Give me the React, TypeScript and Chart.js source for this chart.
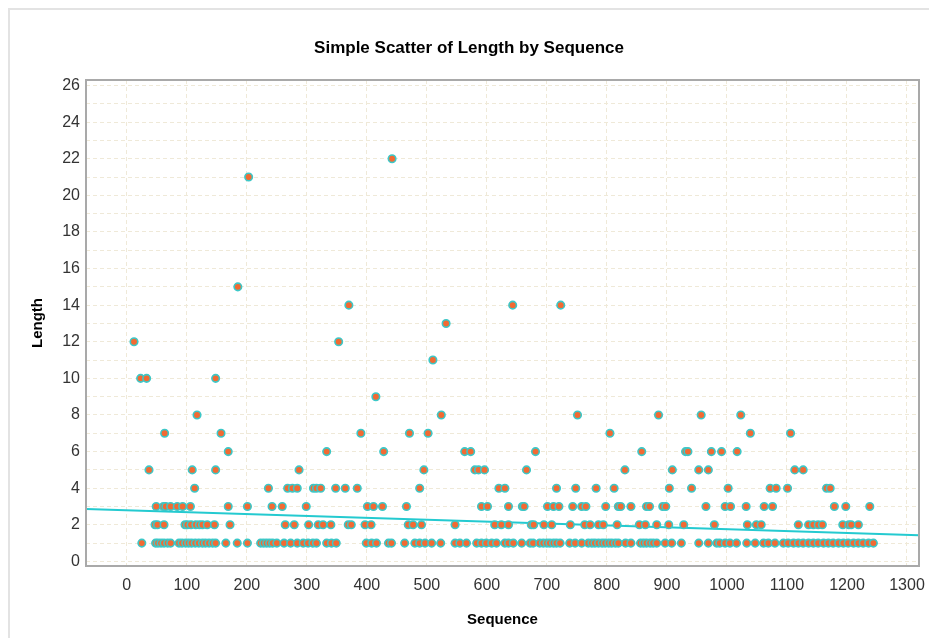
import React, { useEffect, useRef } from "react";
import { Chart, registerables } from "chart.js";

Chart.register(...registerables);

// Sequence values grouped by their Length value
const len1X = [25, 48, 52, 57, 62, 68, 73, 87, 92, 98, 103, 108, 114, 120, 126, 131, 137, 143, 148, 165, 184, 201, 223, 228, 233, 238, 243, 250, 262, 273, 284,
  294, 302, 310, 316, 333, 341, 349, 399, 408, 416, 436, 441, 463, 480, 488, 497, 508, 523, 547, 555, 566, 583, 591, 599, 608, 616, 630,
  636, 644, 658, 672, 677, 688, 694, 700, 705, 711, 716, 722, 738, 747, 758, 769, 775, 780, 786, 792, 797, 803, 808, 814, 819, 831, 840, 856, 861, 866, 872, 877, 883, 897, 908, 924, 953, 969,
  983, 988, 997, 1005, 1016, 1033, 1047, 1061, 1069, 1080, 1094, 1102, 1111, 1119, 1127, 1136, 1144, 1152, 1161, 1169, 1177, 1186, 1194, 1202, 1211, 1219, 1227, 1236, 1244];
const len2X = [47, 51, 62, 97, 101, 107, 115, 121, 126, 134, 146, 172, 264, 279,
  303, 319, 327, 340, 369, 374, 397, 407, 469, 477, 491, 547, 613, 624, 636,
  674, 678, 695, 708, 739, 763, 772, 786, 794, 817, 854, 864, 883, 903, 928, 979,
  1034, 1049, 1057, 1119, 1136, 1144, 1152, 1159, 1193, 1203, 1207, 1219];
const len3X = [49, 61, 65, 73, 84, 93, 106, 169, 201, 242, 259,
  299, 401, 411, 426, 466, 591, 601, 636,
  659, 662, 701, 711, 720, 743, 758, 765, 798, 819, 823, 840, 866, 871, 893, 898, 965,
  997, 1006, 1032, 1062, 1076, 1179, 1198, 1238];
const len4X = [113, 236, 268, 276, 284, 311, 316, 323, 348, 364, 384, 488, 620, 630,
  716, 748, 782, 812, 904, 941, 1002, 1072, 1082, 1101, 1166, 1172];
const len5X = [37, 109, 148, 287, 495, 580, 586, 596, 666, 830, 909, 953, 969, 1113, 1127];
const len6X = [169, 333, 428, 563, 573, 681, 858, 931, 935, 974, 991, 1017];
const len7X = [63, 157, 390, 471, 502, 805, 1039, 1106];
const len8X = [117, 524, 751, 886, 957, 1023];
const len9X = [415];
const len10X = [23, 33, 148];
const len11X = [510];
const len12X = [12, 353];
const len13X = [532];
const len14X = [370, 643, 723];
const len15X = [185];
const len21X = [203];
const len22X = [442];

const lengthLevels = [1, 2, 3, 4, 5, 6, 7, 8, 9, 10, 11, 12, 13, 14, 15, 21, 22];
const sequenceGroups = [len1X, len2X, len3X, len4X, len5X, len6X, len7X, len8X, len9X, len10X, len11X, len12X, len13X, len14X, len15X, len21X, len22X];

// Linear fit line
const fitIntercept = 2.8;
const fitSlope = -0.001037;

const xMin = -68;
const xMax = 1320;
const yMin = -0.25;
const yMax = 26.3;

const FONT = "'Liberation Sans', Arial, sans-serif";

export default function App() {
  const ref = useRef<HTMLCanvasElement>(null);

  useEffect(() => {
    const points: { x: number; y: number }[] = [];
    sequenceGroups.forEach((xs, i) => {
      xs.forEach((x) => points.push({ x, y: lengthLevels[i] }));
    });
    const fitLine = [
      { x: xMin, y: fitIntercept + fitSlope * xMin },
      { x: xMax, y: fitIntercept + fitSlope * xMax },
    ];

    const frame = {
      id: "frame",
      afterDraw(chart: any) {
        const { ctx, chartArea } = chart;
        ctx.save();
        ctx.strokeStyle = "#a9a9a9";
        ctx.lineWidth = 2;
        ctx.strokeRect(chartArea.left, chartArea.top, chartArea.right - chartArea.left, chartArea.bottom - chartArea.top);
        ctx.restore();
      },
    };

    const noOverflow = (s: any) => {
      s.paddingLeft = 0;
      s.paddingRight = 0;
      s.paddingTop = 0;
      s.paddingBottom = 0;
    };

    const chart = new Chart(ref.current as HTMLCanvasElement, {
      type: "scatter",
      data: {
        datasets: [
          {
            data: points,
            backgroundColor: "#f26a33",
            borderColor: "#3cc8c8",
            borderWidth: 1.6,
            pointRadius: 3.75,
            pointHoverRadius: 3.75,
          } as any,
          {
            type: "line",
            data: fitLine,
            borderColor: "#24cad0",
            borderWidth: 2,
            pointRadius: 0,
            fill: false,
          } as any,
        ],
      },
      options: {
        responsive: false,
        animation: false,
        events: [],
        layout: { padding: { left: 19, right: 10, top: 0, bottom: 0 } },
        plugins: {
          legend: { display: false },
          tooltip: { enabled: false },
          title: {
            display: true,
            text: "Simple Scatter of Length by Sequence",
            color: "#000",
            font: { family: FONT, size: 17, weight: "bold", lineHeight: 1.2 },
            padding: { top: 38, bottom: 21.6 },
          },
        },
        scales: {
          x: {
            type: "linear",
            position: "bottom",
            min: xMin,
            max: xMax,
            afterFit: (s: any) => {
              s.height = 72;
              noOverflow(s);
            },
            ticks: {
              stepSize: 100,
              includeBounds: false,
              autoSkip: false,
              maxRotation: 0,
              color: "#333",
              font: { family: FONT, size: 16 },
              padding: 10,
              callback: (v: any) => String(v),
            },
            grid: { color: "#efe9d8", lineWidth: 1, drawTicks: false },
            border: { display: false, dash: [4, 3] },
            title: {
              display: true,
              text: "Sequence",
              color: "#000",
              font: { family: FONT, size: 15, weight: "bold", lineHeight: 1.2 },
              padding: { top: 0, bottom: 9.6 },
            },
          },
          y: {
            type: "linear",
            min: yMin,
            max: yMax,
            afterFit: (s: any) => {
              s.width = 67;
              noOverflow(s);
            },
            ticks: {
              stepSize: 1,
              includeBounds: false,
              autoSkip: false,
              color: "#333",
              font: { family: FONT, size: 16 },
              padding: 6,
              callback: (v: any) => (Number(v) % 2 === 0 ? String(v) : ""),
            },
            grid: { color: "#efe9d8", lineWidth: 1, drawTicks: false },
            border: { display: false, dash: [4, 3] },
            title: {
              display: true,
              text: "Length",
              color: "#000",
              font: { family: FONT, size: 15, weight: "bold", lineHeight: 1.2 },
              padding: { top: 9.6, bottom: 0 },
            },
          },
        },
      },
      plugins: [frame],
    });
    return () => chart.destroy();
  }, []);

  return (
    <div style={{ position: "fixed", left: 0, top: 0, width: 929, height: 638, background: "#fff", overflow: "hidden" }}>
      <div style={{ position: "absolute", left: 8, top: 8, width: 960, height: 660, border: "2px solid #e3e3e3" }} />
      <canvas ref={ref} width={929} height={638} style={{ position: "absolute", left: 0, top: 0 }} />
    </div>
  );
}
